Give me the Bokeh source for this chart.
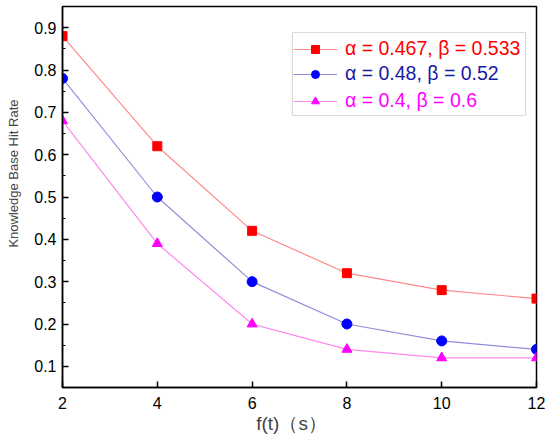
from bokeh.plotting import figure
from bokeh.models import Legend, LegendItem, BoxAnnotation, Range1d, FixedTicker, LinearAxis
from bokeh.embed import file_html
from bokeh.resources import INLINE

x = [2, 4, 6, 8, 10, 12]
s1 = [0.88, 0.62, 0.42, 0.32, 0.28, 0.26]
s2 = [0.78, 0.50, 0.30, 0.20, 0.16, 0.14]
s3 = [0.68, 0.39, 0.20, 0.14, 0.12, 0.12]
labels = ["α = 0.467, β = 0.533", "α = 0.48, β = 0.52", "α = 0.4, β = 0.6"]
xticks = [2, 4, 6, 8, 10, 12]
yticks = [0.1, 0.2, 0.3, 0.4, 0.5, 0.6, 0.7, 0.8, 0.9]
xlabel = "f(t)（s）"
ylabel = "Knowledge Base Hit Rate"

FONT = "Liberation Sans"
NB = "\u00a0"

p = figure(width=550, height=437, output_backend="svg", toolbar_location=None,
           x_range=Range1d(2, 12), y_range=Range1d(0.05, 0.95),
           min_border_left=62, min_border_right=14, min_border_top=6, min_border_bottom=50)
p.grid.visible = False
p.outline_line_color = "black"
p.outline_line_width = 1.5
p.background_fill_color = "white"

for ax in (p.xaxis[0], p.yaxis[0]):
    ax.axis_line_width = 1.5
    ax.major_tick_in = 6
    ax.major_tick_out = 0
    ax.major_tick_line_width = 1.5
    ax.minor_tick_in = 3
    ax.minor_tick_out = 0
    ax.major_label_text_font = FONT
    ax.major_label_text_font_size = "16px"
    ax.major_label_text_color = "black"

p.xaxis.ticker = FixedTicker(ticks=xticks)
p.yaxis.ticker = FixedTicker(ticks=yticks, minor_ticks=[0.05 + 0.1 * i for i in range(10)])
p.xaxis.major_label_standoff = 9
p.yaxis.major_label_standoff = 6

# label-only axes; non-breaking padding shifts the title off-centre like the reference
xt = LinearAxis(ticker=FixedTicker(ticks=[]), axis_label=xlabel + NB * 3,
                axis_line_color=None, major_tick_line_color=None, minor_tick_line_color=None,
                axis_label_text_font=FONT, axis_label_text_font_size="19px",
                axis_label_text_font_style="normal", axis_label_standoff=1)
p.add_layout(xt, "below")
yt = LinearAxis(ticker=FixedTicker(ticks=[]), axis_label=NB * 13 + ylabel,
                axis_line_color=None, major_tick_line_color=None, minor_tick_line_color=None,
                axis_label_text_font=FONT, axis_label_text_font_size="13px",
                axis_label_text_font_style="normal", axis_label_standoff=11)
p.add_layout(yt, "left")

series = [
    (s1, "#ff8a8a", "#ff0000", "square", 9, "#ff0000"),
    (s2, "#9090d8", "#0000ff", "circle", 10, "#1a1aa8"),
    (s3, "#ff88ee", "#ff00ff", "triangle", 10, "#ff00ff"),
]

box = BoxAnnotation(left=6.85, right=11.77, bottom=0.6925, top=0.8886,
                    fill_alpha=0, line_color="#888888", line_width=1.2)
p.add_layout(box)

bottoms = [326, 301, 274]
for (ys, lc, mc, mk, sz, tc), lab, b in zip(series, labels, bottoms):
    r1 = p.line(x, ys, line_color=lc, line_width=1.2)
    r2 = p.scatter(x, ys, marker=mk, size=sz, fill_color=mc, line_color=mc)
    leg = Legend(items=[LegendItem(label=lab, renderers=[r1, r2])],
                 location=(231, b), padding=0, margin=0, spacing=0,
                 border_line_alpha=0, background_fill_alpha=0,
                 label_text_font=FONT, label_text_font_size="19.5px",
                 label_text_color=tc, label_height=25, glyph_height=20,
                 glyph_width=44, label_standoff=8)
    p.add_layout(leg)

open("out.html", "w").write(file_html(p, INLINE))
